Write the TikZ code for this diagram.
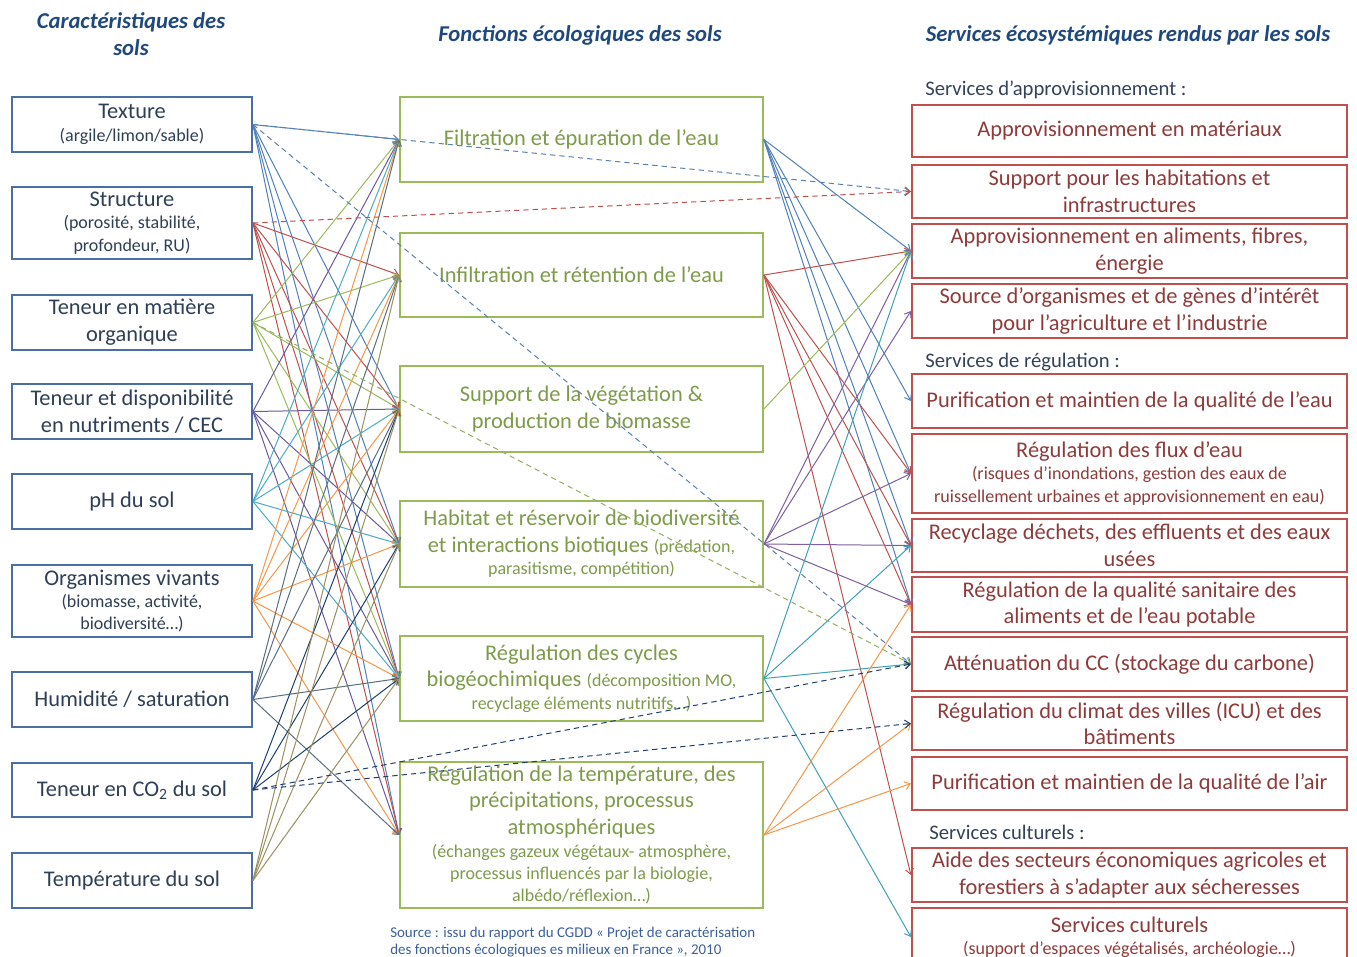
\documentclass[tikz,border=0pt]{standalone}
\usepackage{fontspec}
\setmainfont{Carlito}
\usetikzlibrary{arrows.meta}
\definecolor{lblue}{HTML}{4A6FA5}
\definecolor{ltext}{HTML}{2F3F55}
\definecolor{mgreen}{HTML}{9BBB59}
\definecolor{mtext}{HTML}{7E9B4A}
\definecolor{rred}{HTML}{C0504D}
\definecolor{rtext}{HTML}{8E3B3A}
\definecolor{headc}{HTML}{1F497D}
\definecolor{secc}{HTML}{34435A}
\definecolor{srcc}{HTML}{3B5F9A}
\definecolor{cTex}{HTML}{4F81BD}
\definecolor{cStr}{HTML}{C0504D}
\definecolor{cMO}{HTML}{9BBB59}
\definecolor{cNut}{HTML}{6A5A9E}
\definecolor{cPH}{HTML}{4BACC6}
\definecolor{cOrg}{HTML}{F79646}
\definecolor{cHum}{HTML}{5A6F80}
\definecolor{cCO}{HTML}{1F3F6F}
\definecolor{cTem}{HTML}{9A9060}
\definecolor{cHab}{HTML}{7F5F9F}
\definecolor{cCyc}{HTML}{3FA0B8}
\newcommand\fmain{\fontsize{16.8}{20}\selectfont}
\newcommand\fsmall{\fontsize{13.5}{16.8}\selectfont}
\newcommand\fhead{\fontsize{17}{20.5}\selectfont\bfseries\itshape}
\begin{document}
\begin{tikzpicture}[x=0.75pt,y=-0.75pt,
  lbox/.style={draw=lblue, line width=1.4pt, minimum width=240*0.75pt, text width=236*0.75pt, align=flush center, inner sep=0pt, text=ltext, font=\fmain},
  mbox/.style={draw=mgreen, line width=1.4pt, minimum width=363*0.75pt, text width=358*0.75pt, align=flush center, inner sep=0pt, text=mtext, font=\fmain},
  rbox/.style={draw=rred, line width=1.6pt, minimum width=435*0.75pt, text width=431*0.75pt, align=flush center, inner sep=0pt, text=rtext, font=\fmain},
  head/.style={text=headc, font=\fhead, align=center, inner sep=0pt},
  secl/.style={text=secc, font=\fontsize{15.5}{18}\selectfont, anchor=west, inner sep=0pt},
  conn/.style={line width=0.75pt, -{Straight Barb[length=4pt,width=6pt]}},
  dconn/.style={conn, dashed, dash pattern=on 4pt off 3pt}
]
\useasboundingbox (0,0) rectangle (1357,957);
\fill[white] (0,0) rectangle (1357,957);

% headers
\node[head] (h1) at (131,34) {Caractéristiques des\\sols};
\node[head] (h2) at (580,35) {Fonctions écologiques des sols};
\node[head] (h3) at (1128,35) {Services écosystémiques rendus par les sols};

% left column
\node[lbox, minimum height=55*0.75pt] (tex) at (132,124.5) {Texture\par{\fsmall (argile/limon/sable)\par}};
\node[lbox, minimum height=72*0.75pt] (str) at (132,223) {Structure\par{\fsmall (porosité, stabilité,\\profondeur, RU)\par}};
\node[lbox, minimum height=55*0.75pt] (mo) at (132,322.5) {Teneur en matière\\organique};
\node[lbox, minimum height=55*0.75pt] (nut) at (132,411.5) {Teneur et disponibilité\\en nutriments / CEC};
\node[lbox, minimum height=55*0.75pt] (ph) at (132,501.5) {pH du sol};
\node[lbox, minimum height=72*0.75pt] (org) at (132,601) {Organismes vivants\par{\fsmall (biomasse, activité,\\biodiversité…)\par}};
\node[lbox, minimum height=55*0.75pt] (hum) at (132,699.5) {Humidité / saturation};
\node[lbox, minimum height=54*0.75pt] (co) at (132,790) {Teneur en CO\textsubscript{2} du sol};
\node[lbox, minimum height=55*0.75pt] (tem) at (132,880.5) {Température du sol};

% middle column
\node[mbox, minimum height=85*0.75pt] (fil) at (581.5,139.5) {Filtration et épuration de l’eau};
\node[mbox, minimum height=84*0.75pt] (inf) at (581.5,275) {Infiltration et rétention de l’eau};
\node[mbox, minimum height=86*0.75pt] (sup) at (581.5,409) {Support de la végétation \&\\production de biomasse};
\node[mbox, minimum height=86*0.75pt] (hab) at (581.5,544) {Habitat et réservoir de biodiversité\\et interactions biotiques {\fsmall (prédation,}\par{\fsmall parasitisme, compétition)\par}};
\node[mbox, minimum height=85*0.75pt] (cyc) at (581.5,678.5) {Régulation des cycles\\biogéochimiques {\fsmall (décomposition MO,}\par{\fsmall recyclage éléments nutritifs…)\par}};
\node[mbox, minimum height=146*0.75pt] (reg) at (581.5,835) {Régulation de la température, des\\précipitations, processus\\atmosphériques\par{\fsmall (échanges gazeux végétaux- atmosphère,\\processus influencés par la biologie,\\albédo/réflexion…)\par}};

% right column
\node[secl] (s1) at (925,90) {Services d’approvisionnement :};
\node[rbox, minimum height=52*0.75pt] (mat) at (1129.5,131) {Approvisionnement en matériaux};
\node[rbox, minimum height=53*0.75pt] (shab) at (1129.5,191.5) {Support pour les habitations et\\infrastructures};
\node[rbox, minimum height=54*0.75pt] (ali) at (1129.5,251) {Approvisionnement en aliments, fibres,\\énergie};
\node[rbox, minimum height=54*0.75pt] (src) at (1129.5,311) {Source d’organismes et de gènes d’intérêt\\pour l’agriculture et l’industrie};
\node[secl] (s2) at (925,362) {Services de régulation :};
\node[rbox, minimum height=54*0.75pt] (eau) at (1129.5,401) {Purification et maintien de la qualité de l’eau};
\node[rbox, minimum height=79*0.75pt] (flux) at (1129.5,473.5) {Régulation des flux d’eau\par{\fsmall (risques d’inondations, gestion des eaux de\\ruissellement urbaines et approvisionnement en eau)\par}};
\node[rbox, minimum height=53*0.75pt] (rec) at (1129.5,545.5) {Recyclage déchets, des effluents et des eaux\\usées};
\node[rbox, minimum height=55*0.75pt] (san) at (1129.5,604.5) {Régulation de la qualité sanitaire des\\aliments et de l’eau potable};
\node[rbox, minimum height=54*0.75pt] (att) at (1129.5,664) {Atténuation du CC (stockage du carbone)};
\node[rbox, minimum height=53*0.75pt] (clim) at (1129.5,723.5) {Régulation du climat des villes (ICU) et des\\bâtiments};
\node[rbox, minimum height=53*0.75pt] (air) at (1129.5,783.5) {Purification et maintien de la qualité de l’air};
\node[secl] (s3) at (929,832) {Services culturels :};
\node[rbox, minimum height=54*0.75pt] (aide) at (1129.5,875) {Aide des secteurs économiques agricoles et\\forestiers à s’adapter aux sécheresses};
\node[rbox, minimum height=58*0.75pt] (cul) at (1129.5,937) {Services culturels\par{\fsmall (support d’espaces végétalisés, archéologie…)\par}};

% source
\node[anchor=north west, text=srcc, font=\fontsize{11.2}{12.5}\selectfont, align=left, inner sep=0pt] (srcnote) at (390,927) {Source : issu du rapport du CGDD « Projet de caractérisation\\des fonctions écologiques es milieux en France », 2010};

% left -> middle
\foreach \t in {fil,sup,hab,cyc,reg} \draw[conn, draw=cTex] (tex.east) -- (\t.west);
\foreach \t in {inf,sup,hab,cyc,reg} \draw[conn, draw=cStr] (str.east) -- (\t.west);
\foreach \t in {fil,inf,sup,hab,cyc} \draw[conn, draw=cMO] (mo.east) -- (\t.west);
\foreach \t in {fil,sup,hab,cyc,reg} \draw[conn, draw=cNut] (nut.east) -- (\t.west);
\foreach \t in {fil,inf,sup,hab,cyc} \draw[conn, draw=cPH] (ph.east) -- (\t.west);
\foreach \t in {fil,inf,sup,hab,cyc,reg} \draw[conn, draw=cOrg] (org.east) -- (\t.west);
\foreach \t in {fil,inf,sup,cyc,reg} \draw[conn, draw=cHum] (hum.east) -- (\t.west);
\foreach \t in {sup,hab,cyc} \draw[conn, draw=cCO] (co.east) -- (\t.west);
\foreach \t in {inf,sup,hab,cyc} \draw[conn, draw=cTem] (tem.east) -- (\t.west);

% middle -> right
\foreach \t in {ali,eau,flux,rec,san} \draw[conn, draw=cTex] (fil.east) -- (\t.west);
\foreach \t in {ali,flux,rec,san,aide} \draw[conn, draw=cStr] (inf.east) -- (\t.west);
\draw[conn, draw=cMO] (sup.east) -- (ali.west);
\foreach \t in {ali,src,flux,rec,san} \draw[conn, draw=cHab] (hab.east) -- (\t.west);
\foreach \t in {ali,rec,att,cul} \draw[conn, draw=cCyc] (cyc.east) -- (\t.west);
\foreach \t in {san,clim,air} \draw[conn, draw=cOrg] (reg.east) -- (\t.west);

% dashed direct links
\draw[dconn, draw=cTex!80!gray] (tex.east) -- (shab.west);
\draw[dconn, draw=cStr] (str.east) -- (shab.west);
\draw[dconn, draw=cTex!70!gray] (tex.east) -- (att.west);
\draw[dconn, draw=cMO!80!gray] (mo.east) -- (att.west);
\draw[dconn, draw=cCO] (co.east) -- (att.west);
\draw[dconn, draw=cCO] (co.east) -- (clim.west);
\end{tikzpicture}
\end{document}
